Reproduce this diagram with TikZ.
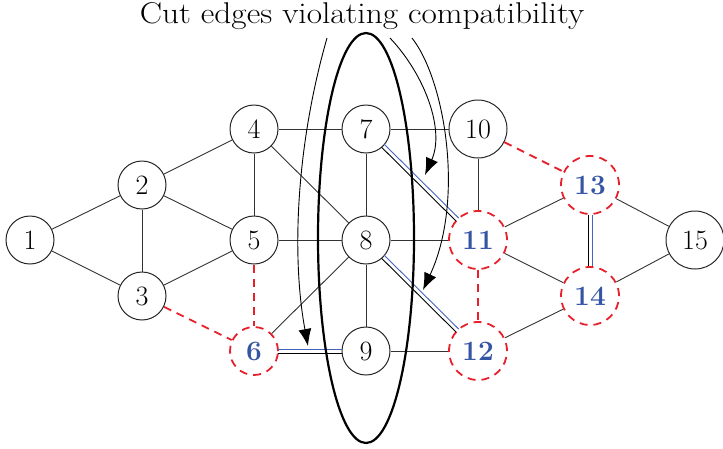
\documentclass[tikz,border=0pt]{standalone}
\usetikzlibrary{calc,arrows.meta}
\definecolor{nblue}{RGB}{52,84,164}
\definecolor{lblue}{RGB}{70,100,190}
\definecolor{nred}{RGB}{232,32,44}
\begin{document}
\begin{tikzpicture}[x=1pt,y=-1pt,
  vtx/.style={circle,draw=black!85,line width=1pt,minimum size=48pt,inner sep=0pt,font=\fontsize{28}{28}\selectfont},
  vtxw/.style={vtx,minimum size=58pt},
  cutv/.style={vtx,draw=nred,dash pattern=on 8pt off 6pt,line width=1.8pt,text=nblue,font=\fontsize{28}{28}\selectfont\bfseries},
  cutvw/.style={cutv,minimum size=58pt},
  edge/.style={draw=black!80,line width=0.9pt},
  redge/.style={draw=nred,line width=1.8pt,dash pattern=on 8pt off 6pt},
  callout/.style={draw=black,line width=0.9pt,-{Latex[length=17pt,width=13pt]}},
  cutline/.style={draw=black,line width=2.2pt},
]
\useasboundingbox (0,0) rectangle (723,448);
\node (title) at (362,16) {\scalebox{1.11}[1]{\fontsize{30}{32}\selectfont Cut edges violating compatibility}};
% vertices
\node[vtx] (n1) at (30,240) {1};
\node[vtx] (n2) at (142,185) {2};
\node[vtx] (n3) at (142,296) {3};
\node[vtx] (n4) at (254,129) {4};
\node[vtx] (n5) at (254,240) {5};
\node[cutv] (n6) at (254,351) {6};
\node[vtx] (n7) at (366,129) {7};
\node[vtx] (n8) at (366,240) {8};
\node[vtx] (n9) at (366,351) {9};
\node[vtxw] (n10) at (478,129) {10};
\node[cutvw] (n11) at (478,240) {11};
\node[cutvw] (n12) at (478,351) {12};
\node[cutvw] (n13) at (590,185) {13};
\node[cutvw] (n14) at (590,296) {14};
\node[vtxw] (n15) at (695,240) {15};
% ordinary edges
\foreach \a/\b in {1/2,1/3,2/3,2/4,2/5,3/5,4/5,4/7,4/8,5/8,7/8,7/10,8/9,8/6,8/11,9/12,10/11,11/13,11/14,13/15,14/15,12/14}
  \draw[edge] (n\a) -- (n\b);
% red dashed edges
\foreach \a/\b in {3/6,5/6,10/13,11/12}
  \draw[redge] (n\a) -- (n\b);
% double (black/blue) edges
\foreach \a/\b/\ra/\rb in {7/11/24/29,8/12/24/29,6/9/24/24,13/14/30/30}{
  \draw[black,line width=0.9pt,shorten <=\ra pt,shorten >=\rb pt]
    ($(n\a.center)!2pt!-90:(n\b.center)$) -- ($(n\b.center)!2pt!90:(n\a.center)$);
  \draw[lblue,line width=0.9pt,shorten <=\ra pt,shorten >=\rb pt]
    ($(n\a.center)!2pt!90:(n\b.center)$) -- ($(n\b.center)!2pt!-90:(n\a.center)$);
}
% cut ellipse
\draw[cutline] (366,238) ellipse [x radius=48pt, y radius=205pt];
% callout arrows
\coordinate (s1) at (327,38);
\coordinate (t1) at (308,346);
\coordinate (s2) at (390,38);
\coordinate (t2) at (425,175);
\coordinate (s3) at (412,38);
\coordinate (t3) at (423,290);
\draw[callout] (s1) .. controls (295,150) and (292,260) .. (t1);
\draw[callout] (s2) .. controls (425,75) and (445,130) .. (t2);
\draw[callout] (s3) .. controls (445,80) and (465,200) .. (t3);
\end{tikzpicture}
\end{document}
